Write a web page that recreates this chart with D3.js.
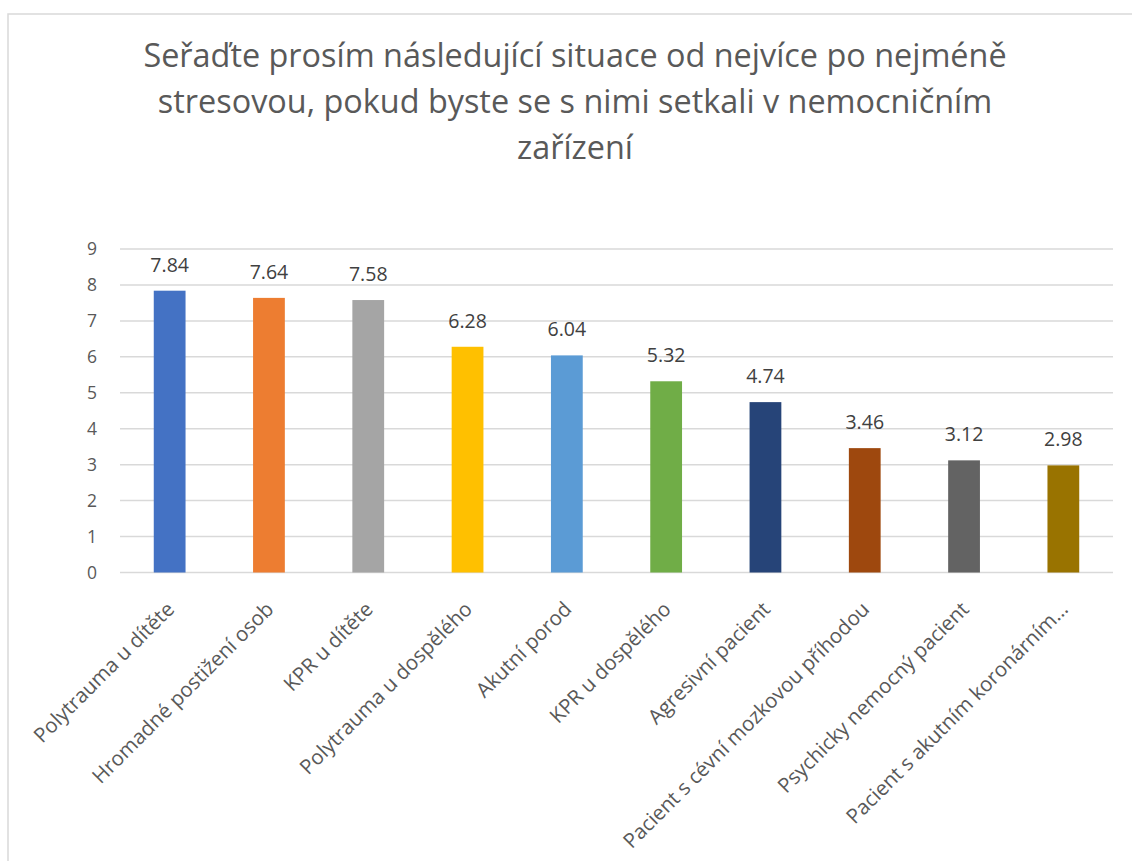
<!DOCTYPE html>
<html>
<head>
<meta charset="utf-8">
<script src="https://cdn.jsdelivr.net/npm/d3@7"></script>
<style>
  body { margin: 0; background: #fff; }
  svg { display: block; }
  text { font-family: "Open Sans", Lato, sans-serif; }
</style>
</head>
<body>
<svg id="chart" width="1132" height="861"></svg>
<script>
// chart data
var titleLines = [
    "Seřaďte prosím následující situace od nejvíce po nejméně",
    "stresovou, pokud byste se s nimi setkali v nemocničním",
    "zařízení"
];
var categories = [
    "Polytrauma u dítěte",
    "Hromadné postižení osob",
    "KPR u dítěte",
    "Polytrauma u dospělého",
    "Akutní porod",
    "KPR u dospělého",
    "Agresivní pacient",
    "Pacient s cévní mozkovou příhodou",
    "Psychicky nemocný pacient",
    "Pacient s akutním koronárním…"
];
var values = [ 7.84, 7.64, 7.58, 6.28, 6.04, 5.32, 4.74, 3.46, 3.12, 2.98 ];
var barColors = [ "#4472C4", "#ED7D31", "#A5A5A5", "#FFC000", "#5B9BD5",
                  "#70AD47", "#264478", "#9E480E", "#636363", "#997300" ];
var yTicks = [ 0, 1, 2, 3, 4, 5, 6, 7, 8, 9 ];

var svg = d3.select( "#chart" );

// chart frame (only left + top edges visible in the picture)
svg.append( "path" )
    .attr( "d", "M8,861 L8,14 L1132,14" )
    .attr( "fill", "none" )
    .attr( "stroke", "#d9d9d9" )
    .attr( "stroke-width", 1.5 );

// title
svg.append( "g" )
    .selectAll( "text" )
    .data( titleLines )
    .enter()
    .append( "text" )
    .attr( "x", 575 )
    .attr( "y", ( d, i ) => 67 + i * 46 )
    .attr( "text-anchor", "middle" )
    .attr( "font-size", 32.4 )
    .attr( "fill", "#595959" )
    .text( d => d );

// scales
var x = d3.scaleBand()
    .domain( categories )
    .range( [ 120, 1113 ] )
    .paddingInner( 0.68 )
    .paddingOuter( 0.34 );

var y = d3.scaleLinear()
    .domain( [ 0, 9 ] )
    .range( [ 572.5, 249 ] );

// gridlines
svg.append( "g" )
    .selectAll( "line" )
    .data( yTicks )
    .enter()
    .append( "line" )
    .attr( "x1", 120 )
    .attr( "x2", 1113 )
    .attr( "y1", d => y( d ) )
    .attr( "y2", d => y( d ) )
    .attr( "stroke", "#d9d9d9" )
    .attr( "stroke-width", 1.5 );

// y axis labels
var yAxis = d3.axisLeft( y ).tickValues( yTicks ).tickSize( 0 ).tickPadding( 0 );
var yg = svg.append( "g" )
    .attr( "transform", "translate(97,0)" )
    .call( yAxis );
yg.select( ".domain" ).remove();
yg.selectAll( "text" )
    .attr( "font-family", "'Open Sans', sans-serif" )
    .attr( "font-size", 17.5 )
    .attr( "fill", "#595959" );

// bars
svg.append( "g" )
    .selectAll( "rect" )
    .data( values )
    .enter()
    .append( "rect" )
    .attr( "x", ( d, i ) => x( categories[ i ] ) )
    .attr( "y", d => y( d ) )
    .attr( "width", x.bandwidth() )
    .attr( "height", d => y( 0 ) - y( d ) )
    .attr( "fill", ( d, i ) => barColors[ i ] );

// value labels
svg.append( "g" )
    .selectAll( "text" )
    .data( values )
    .enter()
    .append( "text" )
    .attr( "x", ( d, i ) => x( categories[ i ] ) + x.bandwidth() / 2 )
    .attr( "y", d => y( d ) - 19 )
    .attr( "text-anchor", "middle" )
    .attr( "font-size", 19.5 )
    .attr( "fill", "#404040" )
    .text( d => d.toFixed( 2 ) );

// x axis (rotated category labels)
var xAxis = d3.axisBottom( x ).tickSize( 0 ).tickPadding( 0 );
var xg = svg.append( "g" )
    .attr( "transform", "translate(0,572.5)" )
    .call( xAxis );
xg.select( ".domain" ).remove();
xg.selectAll( "text" )
    .attr( "font-family", "'Open Sans', sans-serif" )
    .attr( "font-size", 20.5 )
    .attr( "fill", "#595959" )
    .attr( "text-anchor", "end" )
    .attr( "dy", null )
    .attr( "transform", "translate(6,38) rotate(-45)" );
</script>
</body>
</html>
